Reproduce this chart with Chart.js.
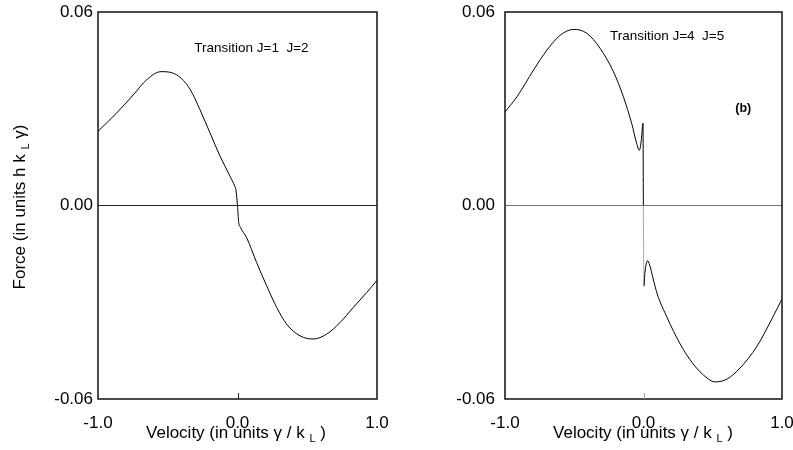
<!DOCTYPE html>
<html>
<head>
<meta charset="utf-8">
<script src="https://cdn.jsdelivr.net/npm/chart.js@4/dist/chart.umd.min.js"></script>
<style>
  body { margin: 0; background: #fff; }
  #wrap { width: 793px; height: 450px; overflow: hidden; display: flex; background: #fff; }
  canvas { display: block; }
</style>
</head>
<body>
<div id="wrap">
  <canvas id="chart1" width="400" height="450"></canvas>
  <canvas id="chart2" width="393" height="450"></canvas>
</div>
<script>
'use strict';

// J=1 -> J=2 transition (left panel)
var velocityLeft = [-1.0, -0.866, -0.747, -0.651, -0.548, -0.436, -0.341, -0.269, -0.197, -0.125,
  -0.054, -0.020, -0.012, 0.0, 0.008, 0.022, 0.066, 0.137, 0.209, 0.281, 0.352, 0.448, 0.543,
  0.639, 0.735, 0.830, 0.926, 1.0];
var forceLeft = [0.0230, 0.0287, 0.0343, 0.0390, 0.0415, 0.0405, 0.0361, 0.0297, 0.0225, 0.0153,
  0.0091, 0.0060, 0.0050, 0.0, -0.0050, -0.0068, -0.0100, -0.0177, -0.0249, -0.0316, -0.0368,
  -0.0404, -0.0414, -0.0399, -0.0363, -0.0316, -0.0270, -0.0232];

// J=4 -> J=5 transition (right panel)
var velocityRight = [-1.0, -0.914, -0.794, -0.697, -0.601, -0.505, -0.409, -0.313, -0.217, -0.145,
  -0.085, -0.049, -0.030, -0.016, -0.0036, -0.001, 0.0030, 0.010, 0.020, 0.029, 0.045, 0.070,
  0.099, 0.171, 0.264, 0.358, 0.459, 0.517, 0.604, 0.697, 0.820, 0.935, 1.0];
var forceRight = [0.0290, 0.0337, 0.0420, 0.0482, 0.0528, 0.0546, 0.0534, 0.0487, 0.0415, 0.0337,
  0.0254, 0.0192, 0.0171, 0.0202, 0.0255, 0.0, -0.0250, -0.0210, -0.0180, -0.0171, -0.0185,
  -0.0228, -0.0274, -0.0348, -0.0429, -0.0491, -0.0535, -0.0547, -0.0538, -0.0504, -0.0436,
  -0.0345, -0.0290];

var xTicks = [-1.0, 0.0, 1.0];
var yTicks = [-0.06, 0.00, 0.06];

var FONT = '"Liberation Sans", Arial, Helvetica, sans-serif';

var toPoints = function (xs, ys) {
  return xs.map(function (x, i) { return { x: x, y: ys[i] }; });
};

// text made of plain and subscript pieces, centred on (cx, cy)
var drawRich = function (ctx, parts, cx, cy, size) {
  var subSize = Math.round(size * 0.65);
  var total = 0;
  parts.forEach(function (p) {
    ctx.font = (p.sub ? subSize : size) + 'px ' + FONT;
    total += ctx.measureText(p.t).width;
  });
  var x = cx - total / 2;
  ctx.textAlign = 'left';
  ctx.textBaseline = 'middle';
  parts.forEach(function (p) {
    ctx.font = (p.sub ? subSize : size) + 'px ' + FONT;
    ctx.fillText(p.t, x, p.sub ? cy + size * 0.35 : cy);
    x += ctx.measureText(p.t).width;
  });
};

var framePlugin = {
  id: 'frameText',
  afterDraw: function (chart, args, opts) {
    var ctx = chart.ctx;
    var area = chart.chartArea;
    var xs = chart.scales.x;
    var ys = chart.scales.y;
    ctx.save();
    ctx.strokeStyle = '#111';
    ctx.lineWidth = 1.5;
    ctx.strokeRect(area.left, area.top, area.right - area.left, area.bottom - area.top);
    // small mark at v = 0 on the bottom edge
    ctx.strokeStyle = opts.tickColor;
    ctx.lineWidth = 1;
    var x0 = Math.round(xs.getPixelForValue(0)) + 0.5;
    ctx.beginPath();
    ctx.moveTo(x0, area.bottom);
    ctx.lineTo(x0, area.bottom - 6);
    ctx.stroke();
    ctx.fillStyle = '#000';
    drawRich(ctx, [
      { t: 'Velocity (in units \u03b3 / k ' },
      { t: 'L', sub: true },
      { t: ' )' },
    ], opts.xTitleX, 433, 17);
    if (opts.yTitle) {
      ctx.save();
      ctx.translate(20, 207);
      ctx.rotate(-Math.PI / 2);
      drawRich(ctx, [
        { t: 'Force (in units h k ' },
        { t: 'L', sub: true },
        { t: ' \u03b3)' },
      ], 0, 0, 17);
      ctx.restore();
    }
    (opts.notes || []).forEach(function (n) {
      ctx.font = n.weight + ' ' + n.size + 'px ' + FONT;
      ctx.textAlign = 'center';
      ctx.textBaseline = 'middle';
      ctx.fillText(n.text, xs.getPixelForValue(n.x), ys.getPixelForValue(n.y));
    });
    ctx.restore();
  },
};

var makeOptions = function (yWidth, rightPad, pluginOpts) {
  return {
    responsive: false,
    animation: false,
    layout: { padding: { top: 12, right: rightPad, bottom: 0, left: 0 } },
    plugins: {
      legend: { display: false },
      tooltip: { enabled: false },
      frameText: pluginOpts,
    },
    scales: {
      x: {
        type: 'linear',
        min: xTicks[0],
        max: xTicks[xTicks.length - 1],
        afterBuildTicks: function (scale) {
          scale.ticks = xTicks.map(function (v) { return { value: v }; });
        },
        afterFit: function (scale) {
          scale.height = 51;
          scale.paddingLeft = 0;
          scale.paddingRight = 0;
        },
        grid: { display: false },
        border: { display: false },
        ticks: {
          color: '#000',
          padding: 6,
          maxRotation: 0,
          font: { family: FONT, size: 17 },
          callback: function (v) { return Number(v).toFixed(1); },
        },
      },
      y: {
        type: 'linear',
        min: yTicks[0],
        max: yTicks[yTicks.length - 1],
        afterBuildTicks: function (scale) {
          scale.ticks = yTicks.map(function (v) { return { value: v }; });
        },
        afterFit: function (scale) {
          scale.width = yWidth;
          scale.paddingTop = 0;
          scale.paddingBottom = 0;
        },
        grid: {
          drawTicks: false,
          lineWidth: 1,
          color: function (c) {
            return c.tick && c.tick.value === 0 ? pluginOpts.zeroColor : 'rgba(0,0,0,0)';
          },
        },
        border: { display: false },
        ticks: {
          color: '#000',
          padding: pluginOpts.labelPad,
          font: { family: FONT, size: 17 },
          callback: function (v) { return Number(v).toFixed(2); },
        },
      },
    },
  };
};

var lineDataset = function (xs, ys, lowColor) {
  return {
    data: toPoints(xs, ys),
    showLine: true,
    borderColor: '#000',
    borderWidth: 1,
    pointRadius: 0,
    cubicInterpolationMode: 'monotone',
    segment: {
      // lower half of the jump at v = 0 is printed lighter
      borderColor: function (c) {
        return c.p0.parsed.y === 0 && c.p1.parsed.y < 0 ? lowColor : undefined;
      },
    },
  };
};

/* eslint-disable-next-line no-unused-vars */
var chartLeft = new Chart(document.getElementById('chart1').getContext('2d'), {
  type: 'scatter',
  plugins: [framePlugin],
  data: { datasets: [lineDataset(velocityLeft, forceLeft, '#000')] },
  options: makeOptions(98, 23, {
    yTitle: true,
    xTitleX: 236,
    tickColor: '#222',
    zeroColor: '#222',
    labelPad: 5,
    notes: [{ text: 'Transition J=1  J=2', x: 0.1, y: 0.0488, size: 13.5, weight: 'normal' }],
  }),
});

/* eslint-disable-next-line no-unused-vars */
var chartRight = new Chart(document.getElementById('chart2').getContext('2d'), {
  type: 'scatter',
  plugins: [framePlugin],
  data: { datasets: [lineDataset(velocityRight, forceRight, '#a8a8a8')] },
  options: makeOptions(105, 11, {
    yTitle: false,
    xTitleX: 243,
    tickColor: '#999',
    zeroColor: '#777',
    labelPad: 10,
    notes: [
      { text: 'Transition J=4  J=5', x: 0.17, y: 0.0526, size: 13.5, weight: 'normal' },
      { text: '(b)', x: 0.72, y: 0.0302, size: 12.5, weight: 'bold' },
    ],
  }),
});
</script>
</body>
</html>
